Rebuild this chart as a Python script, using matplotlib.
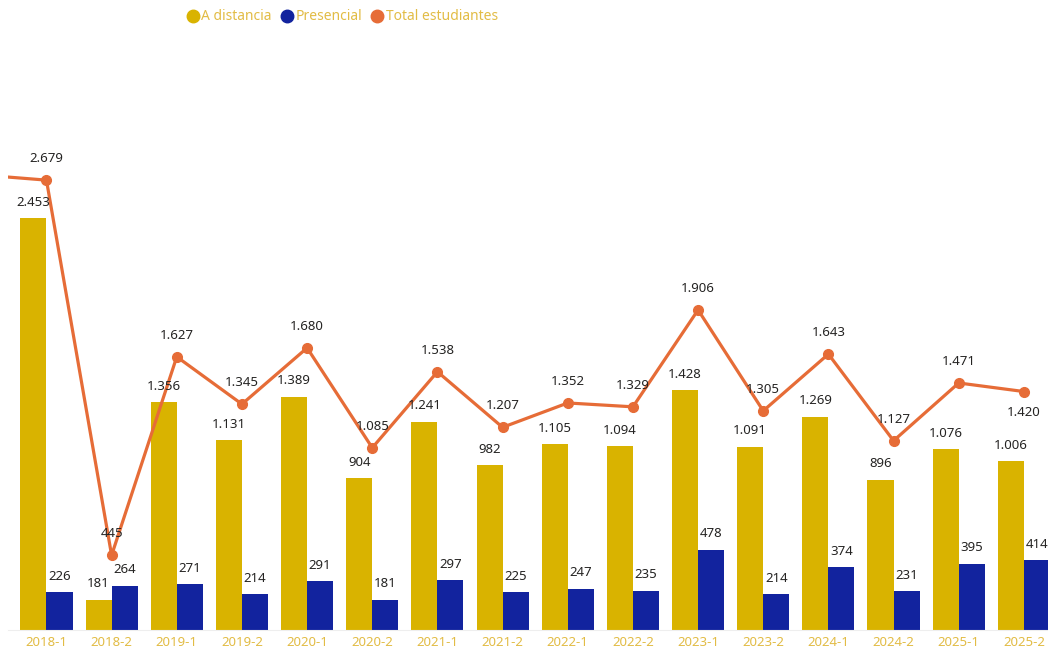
import matplotlib
matplotlib.use("Agg")
import matplotlib.pyplot as plt
from matplotlib.lines import Line2D
import numpy as np

periodos = ["2018-1", "2018-2", "2019-1", "2019-2", "2020-1", "2020-2", "2021-1", "2021-2",
            "2022-1", "2022-2", "2023-1", "2023-2", "2024-1", "2024-2", "2025-1", "2025-2"]
a_distancia = [2453, 181, 1356, 1131, 1389, 904, 1241, 982, 1105, 1094, 1428, 1091, 1269, 896, 1076, 1006]
presencial = [226, 264, 271, 214, 291, 181, 297, 225, 247, 235, 478, 214, 374, 231, 395, 414]
total = [2679, 445, 1627, 1345, 1680, 1085, 1538, 1207, 1352, 1329, 1906, 1305, 1643, 1127, 1471, 1420]
total_anterior = 2710  # periodo previo, fuera del área visible

c_dist = "#D9B300"
c_pres = "#12239E"
c_total = "#E66C37"
c_texto = "#252423"
c_eje = "#E2BC45"

plt.rcParams["font.family"] = ["Noto Sans", "DejaVu Sans"]

fig = plt.figure(figsize=(10.48, 6.54), dpi=100)
ax = fig.add_axes([8 / 1048, 24 / 654, 1040 / 1048, 600 / 654])

x = np.arange(len(periodos))
w = 0.4
ax.bar(x - w / 2, a_distancia, width=w, color=c_dist)
ax.bar(x + w / 2, presencial, width=w, color=c_pres)
ax.plot(np.r_[-1, x], [total_anterior] + total, color=c_total, lw=2.3,
        marker="o", markersize=7, markevery=list(range(1, len(x) + 1)), zorder=3)

def fmt(v):
    return f"{v:,}".replace(",", ".")

for i, v in enumerate(a_distancia):
    ax.annotate(fmt(v), (x[i] - w / 2, v), xytext=(0, 11.5), textcoords="offset points",
                ha="center", va="center", fontsize=9.5, color=c_texto)
for i, v in enumerate(presencial):
    ax.annotate(fmt(v), (x[i] + w / 2, v), xytext=(0, 11.5), textcoords="offset points",
                ha="center", va="center", fontsize=9.5, color=c_texto)
for i, v in enumerate(total):
    dy = -15 if i == len(total) - 1 else 15.5
    ax.annotate(fmt(v), (x[i], v), xytext=(0, dy), textcoords="offset points",
                ha="center", va="center", fontsize=9.5, color=c_texto)

ax.set_xlim(-0.59, 15.37)
ax.set_ylim(0, 3573)
ax.set_xticks(x)
ax.set_xticklabels(periodos, fontsize=9.5, color=c_eje)
ax.tick_params(axis="x", length=0, pad=4)
ax.set_yticks([])
for s in ax.spines.values():
    s.set_visible(False)
ax.spines["bottom"].set_visible(True)
ax.spines["bottom"].set_color("#EEEEEE")

handles = [Line2D([], [], marker="o", ls="", color=c, markersize=9) for c in (c_dist, c_pres, c_total)]
fig.legend(handles, ["A distancia", "Presencial", "Total estudiantes"], loc="center left",
           bbox_to_anchor=(172 / 1048, 1 - 17 / 654), ncol=3, frameon=False, fontsize=10,
           labelcolor=c_eje, handletextpad=0.0, columnspacing=0.5, handlelength=1.2)

fig.savefig("out.png", dpi=100)
